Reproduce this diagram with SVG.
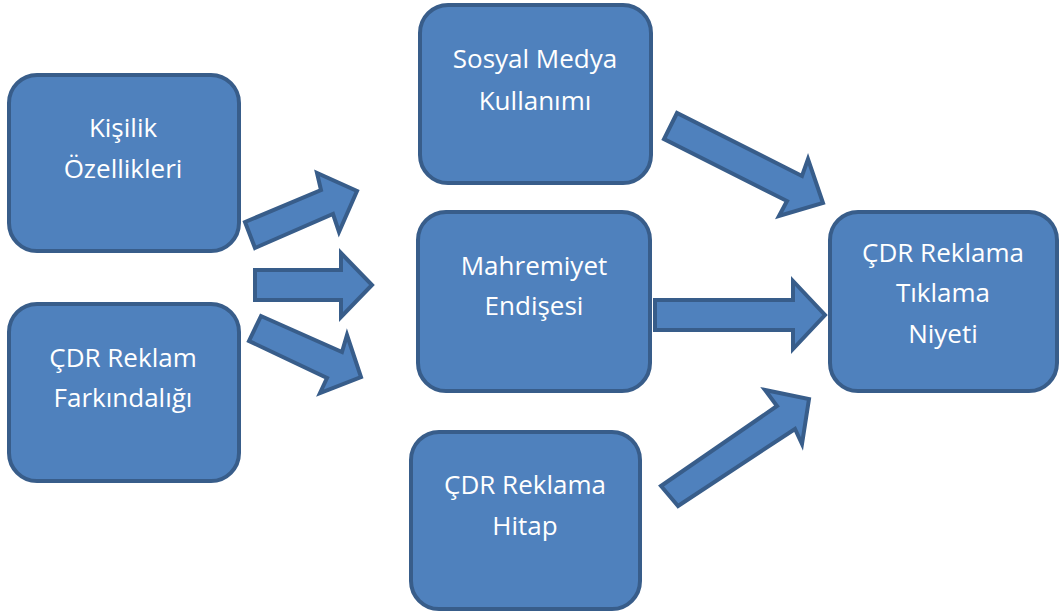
<svg xmlns="http://www.w3.org/2000/svg" width="1059" height="612" viewBox="0 0 1059 612">
  <style>
    .box { fill: #4f81bd; stroke: #385d8a; stroke-width: 4; }
    .arrow { fill: #4f81bd; stroke: #385d8a; stroke-width: 4; stroke-linejoin: miter; }
    .label { font-family: "Open Sans", "Noto Sans", sans-serif; font-size: 26px; fill: #ffffff; text-anchor: middle; }
  </style>
  <rect width="1059" height="612" fill="#ffffff"/>

  <g id="connectors">
    <polygon class="arrow" points="255,248 245,222 321,190 317,173 357,191 339,232 333,214"/>
    <polygon class="arrow" points="255,270 341,270 341,253 372,285 341,317 341,300 255,300"/>
    <polygon class="arrow" points="261,316 249,341 327,378 320,393 361,377 347,335 342,352"/>
    <polygon class="arrow" points="677,113 664,139 787,201 779,216 823,203 808,159 802,176"/>
    <polygon class="arrow" points="655,300 793,300 793,281 825,315 793,349 793,330 655,330"/>
    <polygon class="arrow" points="678,506 661,486 777,406 765,390 809,399 802,444 795,429"/>
  </g>

  <g id="kisilik">
    <rect class="box" x="9" y="75" width="230" height="176" rx="28"/>
    <text class="label" x="123" y="137">Kişilik</text>
    <text class="label" x="123" y="178">Özellikleri</text>
  </g>

  <g id="farkindalik">
    <rect class="box" x="9" y="304" width="230" height="177" rx="28"/>
    <text class="label" x="123" y="367">ÇDR Reklam</text>
    <text class="label" x="123" y="407">Farkındalığı</text>
  </g>

  <g id="sosyal-medya">
    <rect class="box" x="420" y="5" width="231" height="178" rx="28"/>
    <text class="label" x="535" y="68">Sosyal Medya</text>
    <text class="label" x="535" y="110">Kullanımı</text>
  </g>

  <g id="mahremiyet">
    <rect class="box" x="418" y="212" width="232" height="179" rx="28"/>
    <text class="label" x="534" y="275">Mahremiyet</text>
    <text class="label" x="534" y="315">Endişesi</text>
  </g>

  <g id="hitap">
    <rect class="box" x="411" y="432" width="229" height="177" rx="28"/>
    <text class="label" x="525" y="494">ÇDR Reklama</text>
    <text class="label" x="525" y="535">Hitap</text>
  </g>

  <g id="tiklama-niyeti">
    <rect class="box" x="830" y="212" width="227" height="179" rx="28"/>
    <text class="label" x="943" y="262">ÇDR Reklama</text>
    <text class="label" x="943" y="302">Tıklama</text>
    <text class="label" x="943" y="343">Niyeti</text>
  </g>
</svg>
